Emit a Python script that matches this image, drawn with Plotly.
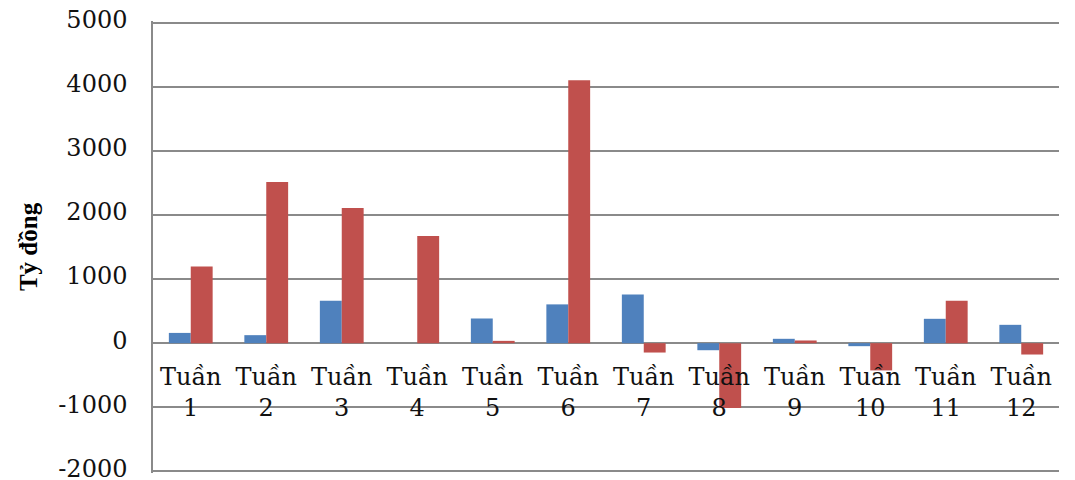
import plotly.graph_objects as go

# Weekly values (tỷ đồng) for the two series
weeks = ["Tuần<br>1", "Tuần<br>2", "Tuần<br>3", "Tuần<br>4", "Tuần<br>5", "Tuần<br>6",
         "Tuần<br>7", "Tuần<br>8", "Tuần<br>9", "Tuần<br>10", "Tuần<br>11", "Tuần<br>12"]
series_blue = [160, 125, 660, 0, 385, 605, 760, -110, 68, -47, 380, 286]
series_red = [1195, 2515, 2108, 1672, 36, 4100, -146, -1010, 42, -425, 661, -177]

y_ticks = [-2000, -1000, 0, 1000, 2000, 3000, 4000, 5000]

GRID = "#8a8a8a"

fig = go.Figure()
fig.add_trace(go.Bar(x=weeks, y=series_blue, marker=dict(color="#4F81BD", line=dict(width=0)),
                     showlegend=False))
fig.add_trace(go.Bar(x=weeks, y=series_red, marker=dict(color="#C0504D", line=dict(width=0)),
                     showlegend=False))

# small padding so the outermost gridlines are kept
pad = 25
y_min, y_max = y_ticks[0] - pad, y_ticks[-1] + pad

fig.update_layout(
    width=1075, height=480,
    margin=dict(l=153, r=16, t=21, b=7),
    paper_bgcolor="white", plot_bgcolor="white",
    barmode="group", bargap=0.42, bargroupgap=0,
    xaxis=dict(
        anchor="free",
        position=(0 - y_min) / (y_max - y_min),
        showline=False, showgrid=False, ticks="", automargin=False,
        ticklabelstandoff=17,
        tickfont=dict(family="DejaVu Serif", size=24, color="#111111"),
        tickangle=0,
    ),
    yaxis=dict(
        range=[y_min, y_max],
        tickvals=y_ticks,
        ticktext=[str(v) for v in y_ticks],
        showgrid=True, gridcolor=GRID, gridwidth=1.5,
        zeroline=True, zerolinecolor=GRID, zerolinewidth=1.5,
        showline=True, linecolor=GRID, linewidth=1.5,
        ticks="", ticklabelstandoff=19, ticklabelshift=-3,
        ticklabeloverflow="allow", automargin=False,
        tickfont=dict(family="DejaVu Serif", size=24, color="#111111"),
        title=dict(text="<b>Tỷ đồng</b>", standoff=14,
                   font=dict(family="Liberation Serif", size=25, color="#000000")),
    ),
)

fig.write_html("out.html")
